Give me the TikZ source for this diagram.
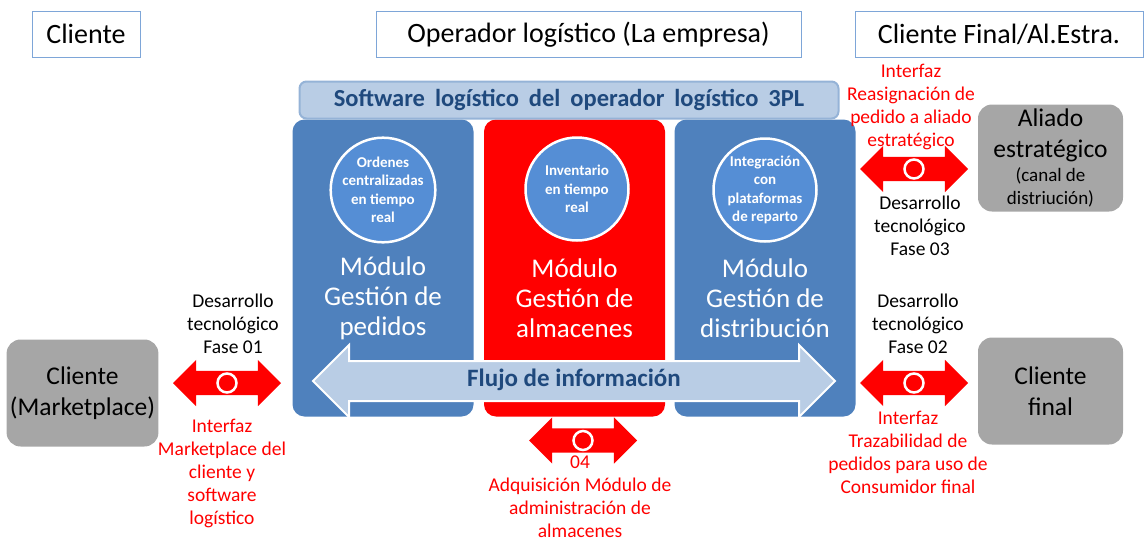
\documentclass[tikz,border=0pt]{standalone}
\usepackage{fontspec}
\setmainfont{Carlito}
\usetikzlibrary{shapes.arrows,positioning}

\definecolor{modblue}{HTML}{4F81BD}
\definecolor{bubblue}{HTML}{558ED5}
\definecolor{lightblue}{HTML}{B9CDE5}
\definecolor{bannerline}{HTML}{95B3D7}
\definecolor{darkblue}{HTML}{1F497D}
\definecolor{frameblue}{HTML}{7EA6D8}
\definecolor{boxgray}{HTML}{A6A6A6}

\begin{document}
\begin{tikzpicture}[
                x=1pt,
                y=-1pt,
                titlebox/.style={
                    draw=frameblue,
                    fill=white,
                    line width=0.8pt,
                    inner sep=0pt,
                    minimum height=46pt,
                    font=\fontsize{28}{32}\selectfont
                },
                modbox/.style={
                    fill=#1,
                    rounded corners=12pt,
                    minimum width=181pt,
                    minimum height=297pt
                },
                modtext/.style={
                    text=white,
                    align=center,
                    font=\fontsize{27}{30}\selectfont
                },
                bubble/.style={
                    circle,
                    fill=bubblue,
                    draw=white,
                    line width=2.5pt,
                    inner sep=0pt,
                    minimum size=103pt,
                    text=white,
                    align=center,
                    font=\bfseries\fontsize{15}{18.5}\selectfont
                },
                banner/.style={
                    fill=lightblue,
                    draw=bannerline,
                    line width=2pt,
                    rounded corners=7pt,
                    minimum width=539pt,
                    minimum height=37pt,
                    text=darkblue,
                    font=\bfseries\fontsize{24.5}{28}\selectfont
                },
                flow/.style={
                    double arrow,
                    fill=lightblue,
                    draw=white,
                    line width=2pt,
                    inner xsep=0pt,
                    inner ysep=9pt,
                    text height=15pt,
                    text depth=5pt,
                    minimum height=522pt,
                    double arrow head extend=16pt,
                    text=darkblue,
                    font=\bfseries\fontsize{25}{28}\selectfont
                },
                graybox/.style={
                    fill=boxgray,
                    rounded corners=14pt,
                    minimum width=145pt,
                    minimum height=107pt,
                    align=center,
                    font=\fontsize{25.5}{31}\selectfont
                },
                redarrow/.style={
                    double arrow,
                    fill=red,
                    inner xsep=0pt,
                    inner ysep=12pt,
                    minimum height=108pt,
                    double arrow head extend=11pt
                },
                ring/.style={
                    circle,
                    fill=red,
                    draw=white,
                    line width=2.5pt,
                    inner sep=0pt,
                    minimum size=19pt
                },
                note/.style={
                    align=center,
                    inner sep=1pt,
                    font=\fontsize{19.5}{23}\selectfont
                },
                rednote/.style={
                    note,
                    text=red
                }
            ]

        \useasboundingbox (0,0) rectangle (1146,541);

        \newcommand{\ifacearrow}[3]{%
            \node[redarrow] (#1) at (#2,#3) {};
            \node[ring] at (#1) {};
        }

        % Titles
        \node[titlebox, minimum width=108pt] (tcli) at (86,34) {Cliente};
        \node[titlebox, minimum width=425pt] (temp) at (588.5,34.5) {Operador logístico (La empresa)};
        \node[titlebox, minimum width=288pt] (tfin) at (999,34.5) {Cliente Final/Al.Estra.};

        % Modules
        \node[modbox=modblue] (pedidos) at (383,268) {};
        \node[modbox=red] (almacenes) at (574.5,268) {};
        \node[modbox=modblue] (distrib) at (765,268) {};

        \node[modtext] (tped) at (383,298) {Módulo\\Gestión de\\pedidos};
        \node[modtext] (talm) at (574.5,298) {Módulo\\Gestión de\\almacenes};
        \node[modtext] (tdis) at (765,298) {Módulo\\Gestión de\\distribución};

        \node[bubble] (ordenes) at (383,190) {Ordenes\\centralizadas\\en tiempo\\real};
        \node[bubble] (inventario) at (577,189) {Inventario\\en tiempo\\real};
        \node[bubble] (integra) at (765,190) {Integración\\con\\plataformas\\de reparto};

        % Software banner
        \node[banner] (soft) at (569,100) {\spaceskip=10pt\relax Software logístico del operador logístico 3PL};

        % Information flow
        \node[flow] (flujo) at (574,381) {Flujo de información};

        % Outside boxes
        \node[graybox] (market) at (82.5,393) {Cliente\\(Marketplace)};
        \node[graybox] (aliado) at (1050.5,158) {Aliado\\estratégico\\[-7pt]{\fontsize{19}{22}\selectfont (canal de}\\[-8pt]{\fontsize{19}{22}\selectfont distriución)}};
        \node[graybox] (final) at (1050.5,391) {Cliente\\final};

        % Interfaces
        \ifacearrow{f01}{227}{383}
        \ifacearrow{f04}{583}{440.5}
        \ifacearrow{f03}{914}{169}
        \ifacearrow{f02}{914}{383}

        \node[note, above=16pt of f01, xshift=6pt] (d01) {Desarrollo\\tecnológico\\Fase 01};
        \node[rednote, below=23pt of f01, xshift=-5pt] (i01) {Interfaz\\Marketplace del\\cliente y\\software\\logístico};

        \node[rednote, anchor=north, inner sep=0pt] (i04) at (580,456) {04\\Adquisición Módulo de\\administración de\\almacenes};

        \node[rednote, above=6pt of f03, xshift=-3pt] (i03) {Interfaz\\Reasignación de\\pedido a aliado\\estratégico};
        \node[note, below=13pt of f03, xshift=6pt] (d03) {Desarrollo\\tecnológico\\Fase 03};

        \node[note, above=16pt of f02, xshift=4pt] (d02) {Desarrollo\\tecnológico\\Fase 02};
        \node[rednote, below=15pt of f02, xshift=-6pt] (i02) {Interfaz\\Trazabilidad de\\pedidos para uso de\\Consumidor final};

            \end{tikzpicture}
\end{document}
